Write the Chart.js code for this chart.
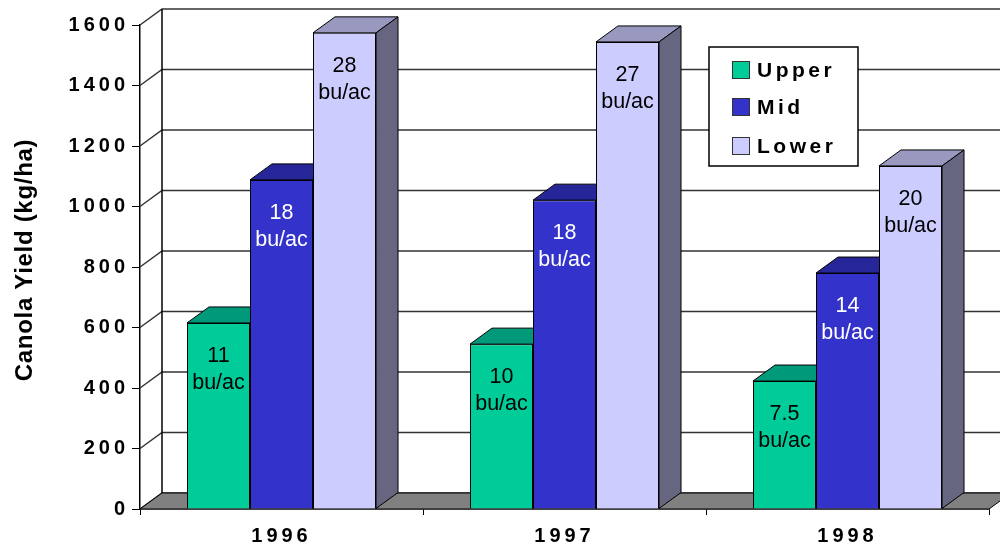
<!DOCTYPE html>
<html>
<head>
<meta charset="utf-8">
<title>Canola Yield</title>
<script src="https://cdn.jsdelivr.net/npm/chart.js@4.4.0/dist/chart.umd.min.js"></script>
<style>
  html, body { margin: 0; padding: 0; background: #fff; }
  #wrap { width: 1000px; height: 548px; }
</style>
</head>
<body>
<div id="wrap"><canvas id="yieldChart" width="1000" height="548"></canvas></div>
<script>
const years = ['1996', '1997', '1998'];
const upperYield = [615, 545, 423];
const midYield = [1088, 1021, 780];
const lowerYield = [1574, 1544, 1134];

// bu/ac notes printed inside the columns
const upperBu = ['11', '10', '7.5'];
const midBu = ['18', '18', '14'];
const lowerBu = ['28', '27', '20'];

// y axis range and step
const yMin = 0;
const yMax = 1600;
const yStep = 200;

const FONT = '"Liberation Sans", Arial, sans-serif';
Chart.defaults.font.family = FONT;

// depth of the fake 3D box (front -> back)
const DX = 22, DY = -16;

const faces = {
    Upper: { top: '#00997a', side: '#008060', text: '#000' },
    Mid: { top: '#262699', side: '#1f1f80', text: '#fff' },
    Lower: { top: '#9999c0', side: '#666680', text: '#000' }
};
const notes = { Upper: upperBu, Mid: midBu, Lower: lowerBu };

function poly(ctx, pts, fill) {
    ctx.beginPath();
    ctx.moveTo(pts[0][0], pts[0][1]);
    for (let i = 1; i < pts.length; i++) ctx.lineTo(pts[i][0], pts[i][1]);
    ctx.closePath();
    ctx.fillStyle = fill;
    ctx.fill();
    ctx.stroke();
}

const box3d = {
    id: 'box3d',
    beforeDraw(chart) {
        // spaced-out axis digits like the original
        chart.ctx.letterSpacing = '4px';
    },
    beforeDatasetsDraw(chart) {
        const ctx = chart.ctx;
        const y = chart.scales.y;
        const a = chart.chartArea;
        ctx.save();

        // side wall diagonals + back wall grid lines
        ctx.strokeStyle = '#333';
        ctx.lineWidth = 1.5;
        y.ticks.forEach(t => {
            const py = y.getPixelForValue(t.value);
            ctx.beginPath();
            ctx.moveTo(a.left, py);
            ctx.lineTo(a.left + DX, py + DY);
            ctx.lineTo(a.right + DX, py + DY);
            ctx.stroke();
        });
        ctx.strokeStyle = '#000';
        ctx.beginPath();
        ctx.moveTo(a.left + DX, y.getPixelForValue(yMin) + DY);
        ctx.lineTo(a.left + DX, y.getPixelForValue(yMax) + DY);
        ctx.stroke();

        // floor
        const base = y.getPixelForValue(yMin);
        ctx.lineWidth = 1;
        poly(ctx, [[a.left, base], [a.right, base], [a.right + DX, base + DY], [a.left + DX, base + DY]], '#808080');

        // top and side faces of the columns
        chart.data.datasets.forEach((ds, i) => {
            const f = faces[ds.label];
            chart.getDatasetMeta(i).data.forEach(bar => {
                const p = bar.getProps(['x', 'y', 'base', 'width'], true);
                const l = p.x - p.width / 2, r = p.x + p.width / 2;
                poly(ctx, [[l, p.y], [r, p.y], [r + DX, p.y + DY], [l + DX, p.y + DY]], f.top);
                poly(ctx, [[r, p.y], [r + DX, p.y + DY], [r + DX, p.base + DY], [r, p.base]], f.side);
            });
        });
        ctx.restore();
    },
    afterDatasetsDraw(chart) {
        const ctx = chart.ctx;
        ctx.save();
        ctx.letterSpacing = '0px';
        ctx.font = '21.5px ' + FONT;
        ctx.textAlign = 'center';
        ctx.textBaseline = 'middle';
        chart.data.datasets.forEach((ds, i) => {
            ctx.fillStyle = faces[ds.label].text;
            chart.getDatasetMeta(i).data.forEach((bar, j) => {
                const p = bar.getProps(['x', 'y'], true);
                ctx.fillText(notes[ds.label][j], p.x, p.y + 33);
                ctx.fillText('bu/ac', p.x, p.y + 60);
            });
        });
        ctx.restore();
    },
    afterDraw(chart) {
        const ctx = chart.ctx;
        ctx.save();

        // legend box
        ctx.fillStyle = '#fff';
        ctx.strokeStyle = '#000';
        ctx.lineWidth = 1.5;
        ctx.fillRect(709, 47, 149, 119);
        ctx.strokeRect(709, 47, 149, 119);
        const rows = [70, 107, 146];
        ctx.font = 'bold 21px ' + FONT;
        ctx.letterSpacing = '3.5px';
        ctx.textAlign = 'left';
        ctx.textBaseline = 'middle';
        chart.data.datasets.forEach((ds, i) => {
            ctx.fillStyle = ds.backgroundColor;
            ctx.strokeStyle = '#333';
            ctx.lineWidth = 1;
            ctx.fillRect(732.5, rows[i] - 8.5, 17, 17);
            ctx.strokeRect(732.5, rows[i] - 8.5, 17, 17);
            ctx.fillStyle = '#000';
            ctx.fillText(ds.label, 757, rows[i] + 1);
        });

        // y axis title
        ctx.translate(25, 260);
        ctx.rotate(-Math.PI / 2);
        ctx.font = 'bold 24px ' + FONT;
        ctx.letterSpacing = '0.7px';
        ctx.textAlign = 'center';
        ctx.textBaseline = 'middle';
        ctx.fillStyle = '#000';
        ctx.fillText('Canola Yield (kg/ha)', 0, 0);
        ctx.restore();
    }
};

const ctx = document.getElementById('yieldChart').getContext('2d');
const yieldChart = new Chart(ctx, {
    type: 'bar',
    data: {
        labels: years,
        datasets: [
            { label: 'Upper', data: upperYield, backgroundColor: '#00cc99' },
            { label: 'Mid', data: midYield, backgroundColor: '#3333cc' },
            { label: 'Lower', data: lowerYield, backgroundColor: '#ccccff' }
        ]
    },
    options: {
        responsive: false,
        animation: false,
        devicePixelRatio: 1,
        layout: { padding: { top: 25, right: 11, left: 0, bottom: 0 } },
        datasets: {
            bar: {
                borderColor: '#000',
                borderWidth: 1,
                barPercentage: 1,
                categoryPercentage: 0.668
            }
        },
        scales: {
            x: {
                ticks: { color: '#000', font: { size: 20, weight: 'bold' }, padding: 9 },
                grid: { drawOnChartArea: false, tickLength: 6, color: '#000' },
                border: { color: '#000', width: 1.5 },
                afterFit(s) { s.height = 39; }
            },
            y: {
                min: yMin,
                max: yMax,
                ticks: {
                    stepSize: yStep,
                    color: '#000',
                    font: { size: 20, weight: 'bold' },
                    padding: 3,
                    callback: v => String(v)
                },
                grid: { drawOnChartArea: false, tickLength: 8, color: '#000' },
                border: { color: '#000', width: 1.5 },
                afterFit(s) { s.width = 140; }
            }
        },
        plugins: {
            legend: { display: false },
            tooltip: { enabled: false }
        }
    },
    plugins: [box3d]
});
</script>
</body>
</html>
